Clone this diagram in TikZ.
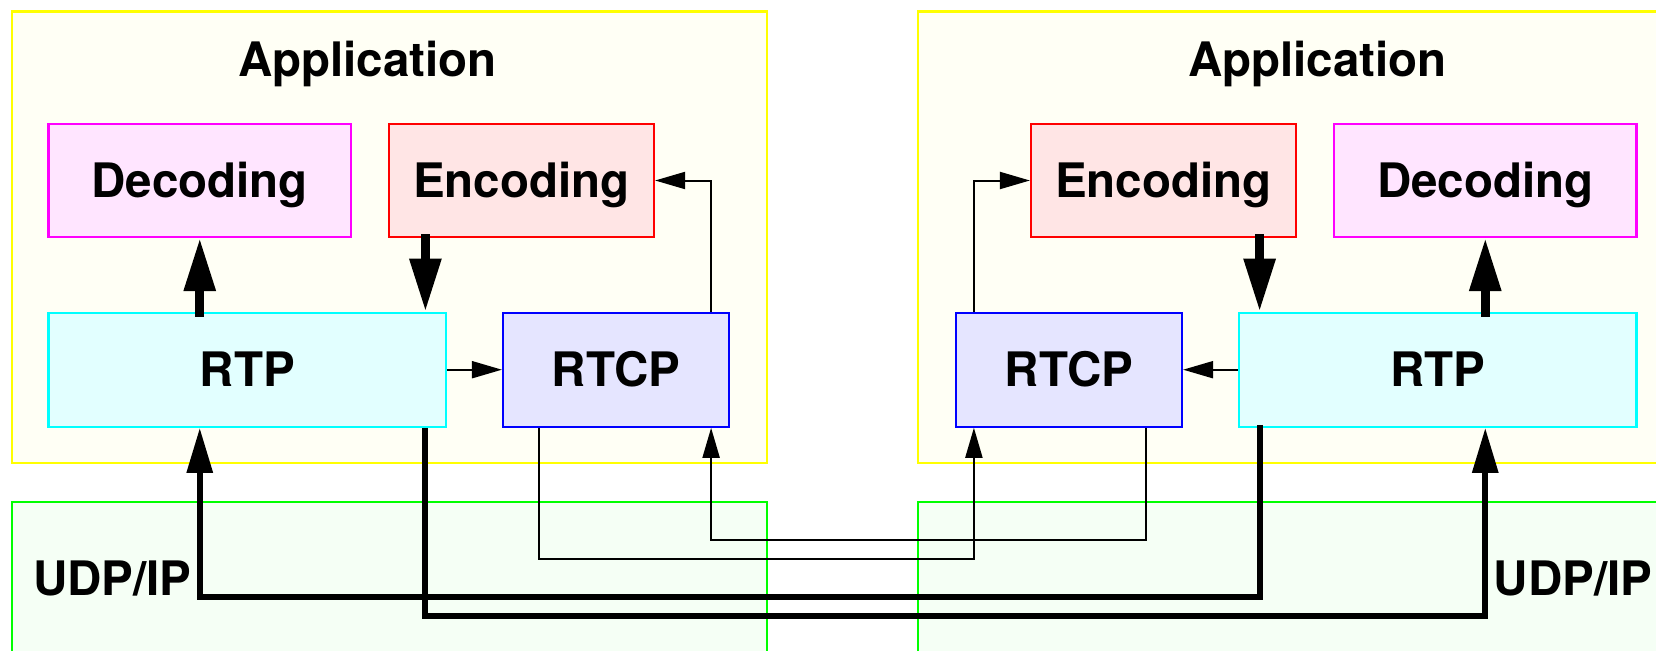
\documentclass[tikz,border=0pt]{standalone}
\usepackage{fontspec}
\setmainfont{TeX Gyre Heros}
\usetikzlibrary{arrows.meta,calc}

\definecolor{appfill}{RGB}{255,255,245}
\definecolor{netfill}{RGB}{245,255,245}
\definecolor{decfill}{RGB}{255,229,255}
\definecolor{encfill}{RGB}{255,229,229}
\definecolor{rtpfill}{RGB}{226,255,255}
\definecolor{rtcpfill}{RGB}{229,229,255}
\definecolor{appline}{RGB}{255,255,0}
\definecolor{netline}{RGB}{0,255,0}
\definecolor{decline}{RGB}{255,0,255}
\definecolor{encline}{RGB}{255,0,0}
\definecolor{rtpline}{RGB}{0,255,255}
\definecolor{rtcpline}{RGB}{0,0,255}

\tikzset{
  bigfont/.style={font=\bfseries\fontsize{47.7pt}{57pt}\selectfont},
  layer/.style={line width=2.2bp},
  block/.style={draw, line width=2.2bp, inner sep=0pt, bigfont,
    text height=34bp, text depth=0pt, minimum height=113bp},
  title/.style={bigfont, inner sep=0pt, anchor=base},
  fat/.style={line width=9bp, -{Triangle[length=53bp, width=30bp]}},
  bus/.style={line width=6bp, -{Triangle[length=45bp, width=25bp]}},
  ctl/.style={line width=2bp, -{Triangle[length=30bp, width=17bp]}},
}

\begin{document}
\begin{tikzpicture}[x=1bp, y=-1bp]
\useasboundingbox (0,0) rectangle (1656,651);
\clip (0,0) rectangle (1656,651);

% application and transport layers
\draw[layer, draw=appline, fill=appfill] (11.6,11.6) rectangle (767,462.6);
\draw[layer, draw=appline, fill=appfill] (918,11.6) rectangle (1673.4,462.6);
\draw[layer, draw=netline, fill=netfill] (11.6,501.7) rectangle (767,700);
\draw[layer, draw=netline, fill=netfill] (918,501.7) rectangle (1673.4,700);

\node[title] (appL) at (367.5,76.7) {Application};
\node[title] (appR) at (1317.5,76.7) {Application};
\node[bigfont, inner sep=0pt, anchor=base west] (udpL) at (33,595) {UDP/IP};
\node[bigfont, inner sep=0pt, anchor=base east] (udpR) at (1652.5,595) {UDP/IP};

% left endpoint
\node[block, draw=decline, fill=decfill, minimum width=302.5bp] (decL) at (199.75,180.5) {Decoding};
\node[block, draw=encline, fill=encfill, minimum width=265bp] (encL) at (521.5,180.5) {Encoding};
\node[block, draw=rtpline, fill=rtpfill, minimum width=397.5bp, minimum height=114bp] (rtpL) at (247.25,369.7) {RTP};
\node[block, draw=rtcpline, fill=rtcpfill, minimum width=226bp, minimum height=114bp] (rtcpL) at (616,369.7) {RTCP};

% right endpoint
\node[block, draw=decline, fill=decfill, minimum width=302.5bp] (decR) at (1485.25,180.5) {Decoding};
\node[block, draw=encline, fill=encfill, minimum width=265bp] (encR) at (1163.5,180.5) {Encoding};
\node[block, draw=rtpline, fill=rtpfill, minimum width=397.5bp, minimum height=114bp] (rtpR) at (1437.75,369.7) {RTP};
\node[block, draw=rtcpline, fill=rtcpfill, minimum width=226bp, minimum height=114bp] (rtcpR) at (1069,369.7) {RTCP};

% levels of the wide-area runs
\coordinate (ctlA) at (0,540);
\coordinate (ctlB) at (0,559);
\coordinate (busA) at (0,596.7);
\coordinate (busB) at (0,616);

% taps on the blocks
\coordinate (encLout) at ($(encL.south west)+(37.5,-4)$);
\coordinate (encRout) at ($(encR.south east)+(-37.5,-4)$);
\coordinate (rtpLout) at (encLout |- rtpL.south);
\coordinate (rtpRout) at (encRout |- rtpR.south);
\coordinate (rtcpLout) at ($(rtcpL.south west)+(37,0)$);
\coordinate (rtcpRout) at ($(rtcpR.south east)+(-37,0)$);
\coordinate (rtcpLin) at ($(rtcpL.south east)+(-19,0)$);
\coordinate (rtcpRin) at ($(rtcpR.south west)+(19,0)$);

% local arrows, left
\draw[fat] ($(decL.south |- rtpL.north)+(0,5)$) -- (decL.south);
\draw[fat] (encLout) -- (encLout |- rtpL.north);
\draw[ctl] (rtpL.east) -- (rtcpL.west);
\draw[ctl] ($(rtcpL.north east)+(-19,0)$) |- (encL.east);

% local arrows, right
\draw[fat] ($(decR.south |- rtpR.north)+(0,5)$) -- (decR.south);
\draw[fat] (encRout) -- (encRout |- rtpR.north);
\draw[ctl] (rtpR.west) -- (rtcpR.east);
\draw[ctl] ($(rtcpR.north west)+(19,0)$) |- (encR.west);

% RTCP exchange
\draw[ctl] (rtcpLout) -- (rtcpLout |- ctlB) -- (rtcpRin |- ctlB) -- (rtcpRin);
\draw[ctl] (rtcpRout) -- (rtcpRout |- ctlA) -- (rtcpLin |- ctlA) -- (rtcpLin);

% RTP media streams
\draw[bus] ($(rtpRout)+(0,-3)$) -- (rtpRout |- busA) -- (decL.south |- busA) -- (decL.south |- rtpL.south);
\draw[bus] (rtpLout) -- (rtpLout |- busB) -- (decR.south |- busB) -- (decR.south |- rtpR.south);
\end{tikzpicture}
\end{document}
